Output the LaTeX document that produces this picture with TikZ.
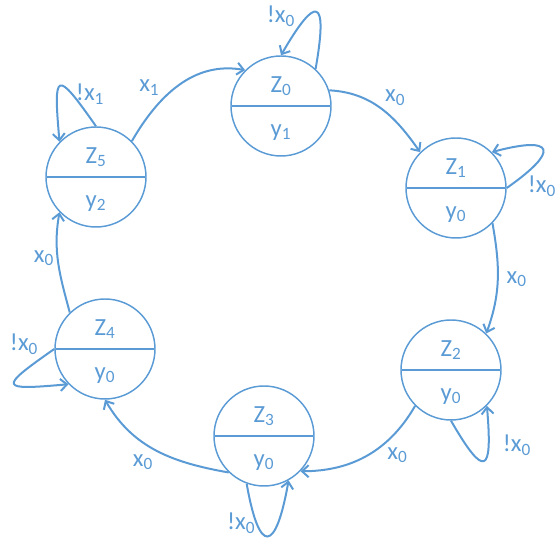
\documentclass[tikz,border=0pt]{standalone}
\usepackage{fontspec}
\setmainfont{Carlito}
\usepackage{xcolor}
\usepackage{tikz}
\usetikzlibrary{shapes,arrows.meta,positioning}

\definecolor{zblue}{RGB}{91,155,213}
\newcommand{\lowstrut}{\rule{0pt}{15pt}}

\begin{document}
\begin{tikzpicture}[x=0.75pt, y=0.75pt, font=\fontsize{18.5}{22}\selectfont, auto]
  \tikzset{
    zstate/.style={circle split, draw=zblue, line width=1.1pt, text=zblue, minimum size=75pt, inner xsep=2pt, inner ysep=7pt},
    trans/.style={draw=zblue, line width=1.5pt, -{Straight Barb[length=5pt, width=9pt]}},
    lbl/.style={text=zblue, inner sep=2pt}
  }
  \useasboundingbox (0,0) rectangle (558,539);

  % States
  \node (z0) [zstate] at (281,433) {Z\textsubscript{0} \nodepart{lower} \lowstrut y\textsubscript{1}};
  \node (z1) [zstate] at (456,351) {Z\textsubscript{1} \nodepart{lower} \lowstrut y\textsubscript{0}};
  \node (z2) [zstate] at (451,169) {Z\textsubscript{2} \nodepart{lower} \lowstrut y\textsubscript{0}};
  \node (z3) [zstate] at (264,103) {Z\textsubscript{3} \nodepart{lower} \lowstrut y\textsubscript{0}};
  \node (z4) [zstate] at (105,190) {Z\textsubscript{4} \nodepart{lower} \lowstrut y\textsubscript{0}};
  \node (z5) [zstate] at (96,362) {Z\textsubscript{5} \nodepart{lower} \lowstrut y\textsubscript{2}};

  % Transitions
  \draw[trans] (z5.45) to[out=60, in=170] node[lbl, pos=.35, above left] {x\textsubscript{1}} (z0.135);
  \draw[trans] (z0.18) to[out=-3, in=125] node[lbl, pos=.5, above right] {x\textsubscript{0}} (z1.135);
  \draw[trans] (z1.-44) to[out=-80, in=70] node[lbl, pos=.5, right=4pt] {x\textsubscript{0}} (z2.46);
  \draw[trans] (z2.225) to[out=-120, in=0] node[lbl, pos=.35, below right] {x\textsubscript{0}} (z3.-44);
  \draw[trans] (z3.226) to[out=170, in=-60] node[lbl, pos=.5, below left] {x\textsubscript{0}} (z4.270);
  \draw[trans] (z4.134) to[out=105, in=-100] node[lbl, pos=.55, left] {x\textsubscript{0}} (z5.224);

  % Self loops
  \draw[trans] (z0.47) to[out=80, in=60, distance=54pt] node[lbl, pos=.72, left, xshift=-5pt, yshift=2pt] {!x\textsubscript{0}} (z0.90);
  \draw[trans] (z1.0) to[out=35, in=15, distance=49pt] node[lbl, pos=.15, below right, xshift=-2pt] {!x\textsubscript{0}} (z1.45);
  \draw[trans] (z2.-90) to[out=-60, in=-85, distance=51pt] node[lbl, pos=.75, right=8pt] {!x\textsubscript{0}} (z2.-45);
  \draw[trans] (z3.250) to[out=-80, in=-100, distance=55pt] node[lbl, pos=.3, left, yshift=4pt] {!x\textsubscript{0}} (z3.-61);
  \draw[trans] (z4.180) to[out=-145, in=185, distance=52pt] node[lbl, pos=.08, above left] {!x\textsubscript{0}} (z4.224);
  \draw[trans] (z5.90) to[out=125, in=95, distance=53pt] node[lbl, pos=.25, right] {!x\textsubscript{1}} (z5.136);
\end{tikzpicture}
\end{document}
